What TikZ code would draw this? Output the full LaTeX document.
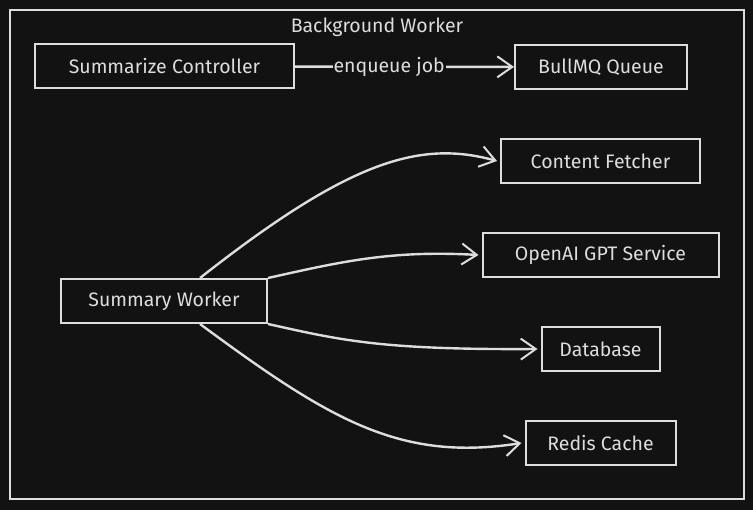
\documentclass[tikz,border=0pt]{standalone}
\usepackage{fontspec}
\setmainfont{Fira Sans}
\usetikzlibrary{positioning}
\usetikzlibrary{arrows.meta}
\definecolor{bg}{HTML}{121212}
\definecolor{ink}{HTML}{DDDDDD}
\newcommand{\boxfont}{\fontsize{19.5}{22}\selectfont}
\tikzset{%
  box/.style={draw=ink, line width=2pt, text=ink, minimum height=44pt, inner sep=0pt, font=\boxfont},%
  flow/.style={draw=ink, line width=2.4pt, -{Straight Barb[length=15pt,width=21pt,line width=2pt]}},%
}
\begin{document}
\begin{tikzpicture}[x=1pt, y=-1pt]%
        \fill[bg] (0,0) rectangle (753,510);%
        \draw[ink, line width=2pt] (10,10) rectangle (744,499);%
        \node[text=ink, font=\boxfont] (title) at (377,27) {Background Worker};%
        \node[box, minimum width=259pt] (ctrl) at (164.5,66.5) {Summarize Controller};%
        \node[box, minimum width=172pt] (queue) at (601,67) {BullMQ Queue};%
        \node[box, minimum width=206pt] (worker) at (164,301) {Summary Worker};%
        \node[box, minimum width=199pt] (fetch) at (600.5,161) {Content Fetcher};%
        \node[box, minimum width=236pt, below=48pt of fetch] (gpt) {OpenAI GPT Service};%
        \node[box, minimum width=118pt, below=48pt of gpt] (db) {Database};%
        \node[box, minimum width=150pt, below=48pt of db] (redis) {Redis Cache};%
        \draw[flow] (ctrl) -- (queue) node[pos=0.43, fill=bg, text=ink, inner sep=1pt, font=\boxfont] {enqueue job}; %
        \draw[flow] ([xshift=36pt]worker.north) .. controls (350,160) and (420,140) .. ([xshift=-3pt]fetch.west); %
        \draw[flow] (worker.north east) .. controls (340,262) and (390,250) .. ([xshift=-3pt]gpt.west); %
        \draw[flow] (worker.south east) .. controls (340,340) and (380,350) .. ([xshift=-3pt]db.west); %
        \draw[flow] ([xshift=36pt]worker.south) .. controls (330,420) and (400,462) .. ([xshift=-3pt]redis.west); %
\end{tikzpicture}
\end{document}
